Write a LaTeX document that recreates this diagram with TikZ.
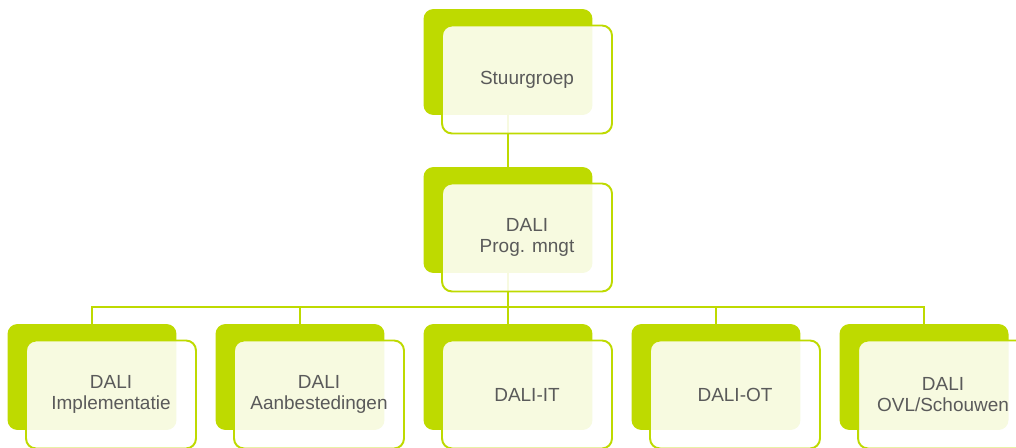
\documentclass[tikz,border=0pt]{standalone}
\usepackage{fontspec}
\setmainfont{Liberation Sans}
\usepackage{xcolor}
\usepackage{tikz}
\usetikzlibrary{calc}
\definecolor{Lime}{RGB}{190,218,0}
\definecolor{TextGray}{RGB}{90,90,90}
\tikzset{
  backbox/.style={fill=Lime, rounded corners=2mm, minimum width=3.38cm, minimum height=2.12cm, inner sep=0pt},
  frontbox/.style={draw=Lime, line width=1.1pt, fill=white, fill opacity=0.88, text opacity=1, text=TextGray,
    rounded corners=2mm, minimum width=3.4cm, minimum height=2.16cm, align=center, inner sep=0pt,
    font=\fontsize{10.8}{12}\selectfont},
  link/.style={draw=Lime, line width=1.1pt}
}
\begin{document}
\begin{tikzpicture}[x=0.02cm, y=-0.02cm, line cap=round]
  \useasboundingbox (0,0) rectangle (1016,448);

  \coordinate (S) at (508,62);
  \coordinate (P) at (508,220);
  \coordinate (bus) at (508,307);

  % green backs
  \node[backbox] (stuurB) at (S) {};
  \node[backbox] (progB) at (P) {};
  \foreach \i/\n in {0/impl, 1/aanb, 2/it, 3/ot, 4/ovl}
    \node[backbox] (\n B) at (92+208*\i, 377) {};

  % connectors
  \draw[link] (stuurB.south) -- (progB.north);
  \draw[link] (progB.south) -- (bus);
  \foreach \n in {impl, aanb, it, ot, ovl}
    \draw[link] (bus) -| (\n B.north);

  % front boxes
  \node[frontbox] (stuur) at ($ (S)+(19,17.5) $) {Stuurgroep};
  \node[frontbox] (prog) at ($ (P)+(19,17.5) $) {DALI\\Prog. mngt};
  \node[frontbox] (impl) at ($ (implB)+(19,17.5) $) {DALI\\Implementatie};
  \node[frontbox] (aanb) at ($ (aanbB)+(19,17.5) $) {DALI\\Aanbestedingen};
  \node[frontbox] (it) at ($ (itB)+(19,17.5) $) {DALI-IT};
  \node[frontbox] (ot) at ($ (otB)+(19,17.5) $) {DALI-OT};
  \node[frontbox] (ovl) at ($ (ovlB)+(19,17.5) $) {DALI\\OVL/Schouwen};

\end{tikzpicture}
\end{document}
